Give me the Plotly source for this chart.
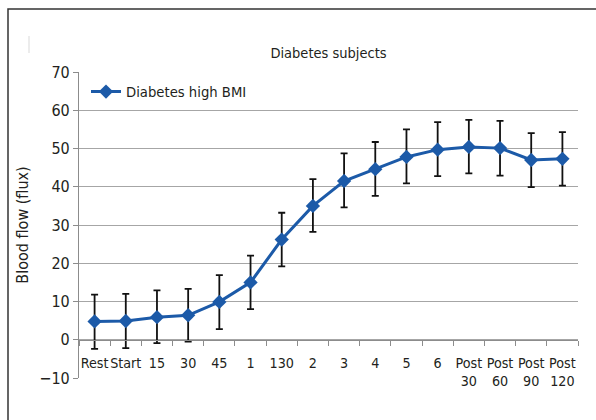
import plotly.graph_objects as go

# Time points of the protocol
categories = ["Rest", "Start", "15", "30", "45", "1", "130", "2", "3", "4", "5", "6",
              "Post<br>30", "Post<br>60", "Post<br>90", "Post<br>120"]

# Mean blood flow (flux) and error (upper / lower extents)
flow_mean = [4.8, 4.9, 5.9, 6.4, 9.9, 15.0, 26.2, 35.0, 41.5, 44.6, 47.8, 49.7,
             50.4, 50.1, 47.0, 47.3]
err_plus = [7.0, 7.1, 7.0, 6.9, 7.0, 7.0, 7.0, 7.0, 7.2, 7.1, 7.2, 7.2,
            7.1, 7.1, 7.0, 7.0]
err_minus = [7.2, 7.1, 6.8, 6.9, 7.1, 7.0, 7.0, 6.8, 6.9, 7.0, 6.9, 6.9,
             6.9, 7.2, 7.1, 7.0]

series_name = "Diabetes high BMI"
title_text = "Diabetes subjects"
y_title = "Blood flow (flux)"
y_ticks = [-10, 0, 10, 20, 30, 40, 50, 60, 70]

FONT = "DejaVu Sans Condensed, DejaVu Sans, sans-serif"
TEXT = "#231f20"
BLUE = "#1c5aa8"
GRID = "#a6a6a6"

W, H = 596, 420
L, R, T, B = 79, 18, 72, 42
plot_w, plot_h = W - L - R, H - T - B


def px_x(px):
    return (px - L) / plot_w


def px_y(py):
    return (H - B - py) / plot_h


fig = go.Figure()
fig.add_trace(go.Scatter(
    x=categories, y=flow_mean, name=series_name, mode="lines+markers",
    line=dict(color=BLUE, width=3),
    marker=dict(symbol="diamond", size=11, color=BLUE),
    error_y=dict(type="data", symmetric=False, array=err_plus, arrayminus=err_minus,
                 color="#111111", thickness=1.8, width=3.5),
))

y_min, y_max = -10, 70
fig.update_layout(
    width=W, height=H,
    margin=dict(l=L, r=R, t=T, b=B),
    paper_bgcolor="white", plot_bgcolor="white",
    font=dict(family=FONT, size=15, color=TEXT),
    title=dict(text=title_text, x=0.5, xref="paper", xanchor="center",
               y=1 - 53 / H, yref="container", yanchor="middle",
               font=dict(family=FONT, size=14.5, color=TEXT)),
    showlegend=True,
    legend=dict(x=px_x(86), y=px_y(92), xanchor="left", yanchor="middle",
                bgcolor="rgba(0,0,0,0)", font=dict(family=FONT, size=14.7, color=TEXT),
                itemwidth=30),
    xaxis=dict(
        type="category", range=[-0.5, len(categories) - 0.5],
        anchor="free", position=(0 - y_min) / (y_max - y_min),
        showline=True, linecolor="#8c8c8c", linewidth=1.2,
        ticks="outside", ticklen=5, tickcolor="#8c8c8c", tickson="boundaries",
        showgrid=False, zeroline=False, tickangle=0, ticklabelstandoff=10,
        tickfont=dict(family=FONT, size=14.2, color=TEXT),
    ),
    yaxis=dict(
        range=[y_min, y_max], tickvals=y_ticks,
        showline=True, linecolor="#8c8c8c", linewidth=1.2,
        ticks="outside", ticklen=5, tickcolor="#8c8c8c",
        showgrid=True, gridcolor=GRID, gridwidth=1.2, zeroline=False,
        tickfont=dict(family=FONT, size=16, color=TEXT),
        title=dict(text=y_title, font=dict(family=FONT, size=16, color=TEXT), standoff=6),
    ),
    shapes=[
        # outer frame
        dict(type="rect", xref="paper", yref="paper",
             x0=px_x(8), x1=px_x(610), y0=px_y(440), y1=px_y(9),
             line=dict(color="#333333", width=1.5), fillcolor="rgba(0,0,0,0)", layer="below"),
        # faint mark near top-left
        dict(type="line", xref="paper", yref="paper",
             x0=px_x(29), x1=px_x(29), y0=px_y(53), y1=px_y(36),
             line=dict(color="#d9d9d9", width=1)),
    ],
)

fig.write_html("out.html")
